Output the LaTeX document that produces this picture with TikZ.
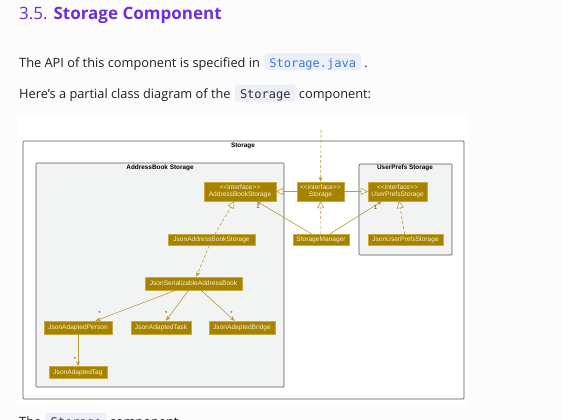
\documentclass[tikz,border=0pt]{standalone}
\usepackage{fontspec}
\setmainfont{Open Sans}
\setmonofont{DejaVu Sans Mono}
\newfontfamily\umlfont{Liberation Sans}
\usepackage{tikz}
\usetikzlibrary{arrows.meta,positioning}
\definecolor{pagebg}{HTML}{FCFCFD}
\definecolor{titlecol}{HTML}{6D2FDB}
\definecolor{bodytext}{HTML}{1F1F24}
\definecolor{codebg}{HTML}{EDEFF8}
\definecolor{codeblue}{HTML}{3A7BD5}
\definecolor{codedark}{HTML}{2E2E38}
\definecolor{clsfill}{HTML}{A58300}
\definecolor{clsline}{HTML}{C9AA3E}
\definecolor{clstext}{HTML}{FAF0CF}
\definecolor{edgecol}{HTML}{B89B3A}
\definecolor{pkgfill}{HTML}{F2F4F4}
\definecolor{pkgline}{HTML}{555555}

\begin{document}
\begin{tikzpicture}[
        x=1pt, y=-1pt,
        cls/.style={rectangle, draw=clsline, fill=clsfill, text=clstext, font=\umlfont\fontsize{6.6}{7.4}\selectfont, inner sep=0.8pt, minimum height=11pt},
        iface/.style={cls, align=center, minimum height=19pt},
        pkg/.style={draw=pkgline, fill=pkgfill, line width=0.7pt, rounded corners=1pt},
        pkgname/.style={font=\umlfont\bfseries\fontsize{6.4}{7}\selectfont, text=black, inner sep=0pt},
        assoc/.style={-{Stealth[length=5pt,width=4pt]}, draw=edgecol, line width=0.6pt},
        extends/.style={-{Triangle[fill=white,length=7pt,width=7pt]}, draw=edgecol, line width=0.6pt},
        realize/.style={extends, dash pattern=on 3pt off 2pt},
        dep/.style={assoc, dash pattern=on 3pt off 2pt},
        mult/.style={font=\umlfont\fontsize{6}{6.5}\selectfont, text=black!75, inner sep=0.6pt},
        code/.style={fill=codebg, rounded corners=2.5pt, font=\ttfamily\fontsize{12}{14}\selectfont, inner xsep=5pt, inner ysep=2.5pt, text height=11pt, text depth=1pt},
        body/.style={font=\fontsize{12.8}{15}\selectfont, text=bodytext, inner sep=0pt}
    ]
        \useasboundingbox[fill=pagebg] (0,0) rectangle (562,420);

        % page text
        \node[anchor=base west, inner sep=0pt, text=titlecol, font=\fontsize{17}{20}\selectfont] (title) at (19,20) {3.5. \textbf{Storage Component}};
        \node[body, anchor=base west] (apitext) at (19,67) {The API of this component is specified in};
        \node[code, text=codeblue, base right=4pt of apitext] (apicode) {Storage.java};
        \node[body, base right=3pt of apicode] (apidot) {.};
        \node[body, anchor=base west] (difftext) at (19,98) {Here’s a partial class diagram of the};
        \node[code, text=codedark, base right=4pt of difftext] (diffcode) {Storage};
        \node[body, base right=3pt of diffcode] (diffend) {component:};
        \node[body, anchor=base west] (nexttext) at (19,426) {The};
        \node[code, text=codedark, base right=4pt of nexttext] (nextcode) {Storage};
        \node[body, base right=3pt of nextcode] (nextend) {component};

        % diagram panel and packages
        \fill[white] (18,115) rectangle (468,404);
        \draw[pkg, fill=white] (23,141) rectangle (464,399);
        \node[pkgname] (storagepkg) at (243,146) {Storage};
        \draw[pkg] (36,163) rectangle (284,387);
        \node[pkgname] (abpkg) at (160,168) {AddressBook Storage};
        \draw[pkg] (359,164) rectangle (452,255);
        \node[pkgname] (uppkg) at (405,168) {UserPrefs Storage};

        % classes
        \node[iface, minimum width=72pt] (absi) at (240,191.5) {<<interface>>\\AddressBookStorage};
        \node[iface, minimum width=47pt] (stoi) at (320.5,191.5) {<<interface>>\\Storage};
        \node[iface, minimum width=59pt] (upsi) at (397.5,191.5) {<<interface>>\\UserPrefsStorage};
        \node[cls, minimum width=56pt] (mgr) at (321,239.5) {StorageManager};
        \node[cls, minimum width=75pt] (jups) at (405.5,239.5) {JsonUserPrefsStorage};
        \node[cls, minimum width=87pt] (jabs) at (211.5,240) {JsonAddressBookStorage};
        \node[cls, minimum width=97pt, minimum height=13pt] (jsab) at (193.5,283.5) {JsonSerializableAddressBook};
        \node[cls, minimum width=68pt, minimum height=13pt] (jap) at (78,327.5) {JsonAdaptedPerson};
        \node[cls, minimum width=60pt, minimum height=13pt] (jat) at (161,327.5) {JsonAdaptedTask};
        \node[cls, minimum width=66pt, minimum height=13pt] (jabr) at (242,327.5) {JsonAdaptedBridge};
        \node[cls, minimum width=58pt, minimum height=12pt] (jtag) at (78,372.5) {JsonAdaptedTag};

        \coordinate (outside) at (321,130);

        % connectors
        \draw[dep] (outside) -- (stoi);
        \draw[extends] (stoi) -- (absi);
        \draw[extends] (stoi) -- (upsi);
        \draw[realize] (mgr) -- (stoi);
        \draw[realize] (jups) -- (upsi);
        \draw[assoc] (mgr) -- (absi) node[mult, at end, anchor=north west, xshift=-1pt, yshift=-2pt] {1};
        \draw[assoc] (mgr) -- (upsi) node[mult, at end, anchor=north east, xshift=-4pt, yshift=-3pt] {1};
        \draw[realize] (jabs) -- (absi);
        \draw[dep] (jabs) -- (jsab);
        \draw[assoc] (jsab) -- (jap) node[mult, at end, anchor=south west, xshift=2pt, yshift=4pt] {*};
        \draw[assoc] (jsab) -- (jat) node[mult, at end, anchor=south, yshift=4pt] {*};
        \draw[assoc] (jsab) -- (jabr) node[mult, at end, anchor=south east, xshift=-1pt, yshift=4pt] {*};
        \draw[assoc] (jap) -- (jtag) node[mult, at end, anchor=south east, xshift=-1pt, yshift=4pt] {*};
    \end{tikzpicture}
\end{document}
